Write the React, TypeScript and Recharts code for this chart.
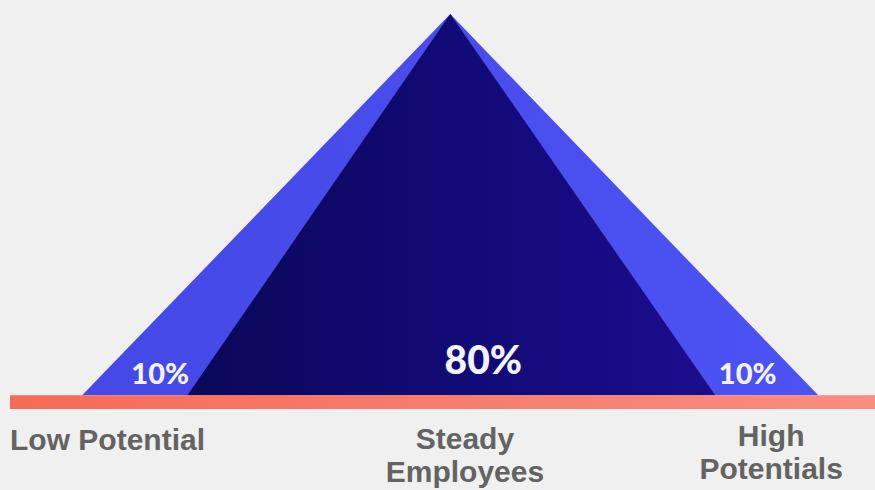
import React from "react";
import {
  ComposedChart,
  Area,
  XAxis,
  YAxis,
  ReferenceArea,
  ReferenceDot,
} from "recharts";

if (typeof document !== "undefined") document.body.style.margin = "0";

// categories and their shares
const categories = ["Low Potential", "Steady Employees", "High Potentials"];
const categoryLines = [["Low Potential"], ["Steady", "Employees"], ["High", "Potentials"]];
const shares = [10, 80, 10];

// pyramid outline (x along the base, 0..100; height 0..100)
const pyramidX = [0, 14.3, 50, 86, 100];
const outerHeight = [0, 28.6, 100, 28, 0];
const innerHeight = [null, 0, 100, 0, null];

const pyramidData = pyramidX.map((x, i) => ({
  x,
  outer: outerHeight[i],
  inner: innerHeight[i],
}));

// where each share label sits and where each category label sits
const shareLabelX = [10.6, 54.5, 90.4];
const shareLabelY = [5.6, 9.3, 5.6];
const categoryTickX = [-9.8, 52, 93.6];

const X_DOMAIN: [number, number] = [-9.8, 107.7];
const Y_DOMAIN: [number, number] = [-3.6, 100];

const CategoryTick = (props: any) => {
  const { x, y, index } = props;
  const lines = categoryLines[index] || [categories[index]];
  const anchor = index === 0 ? "start" : "middle";
  const firstDy = index === 0 ? 41 : index === 1 ? 40 : 37;
  return (
    <text
      x={x}
      y={y + firstDy}
      textAnchor={anchor}
      fill="#636363"
      fontSize={30}
      fontWeight={700}
      fontFamily="'Liberation Sans', Arial, sans-serif"
    >
      {lines.map((line: string, i: number) => (
        <tspan key={i} x={x} dy={i === 0 ? 0 : 33}>
          {line}
        </tspan>
      ))}
    </text>
  );
};

export default function App() {
  return (
    <div style={{ width: 875, height: 490, background: "#f0f0f0", overflow: "hidden" }}>
      <ComposedChart
        width={875}
        height={490}
        data={pyramidData}
        margin={{ top: 14, right: 0, left: 10, bottom: 0 }}
      >
        <defs>
          <linearGradient id="outerGrad" x1="0" y1="0" x2="1" y2="0">
            <stop offset="0%" stopColor="#4448e6" />
            <stop offset="100%" stopColor="#4d52f4" />
          </linearGradient>
          <linearGradient id="innerGrad" x1="0" y1="0" x2="1" y2="0">
            <stop offset="0%" stopColor="#0a0858" />
            <stop offset="55%" stopColor="#120a78" />
            <stop offset="100%" stopColor="#1c0d8e" />
          </linearGradient>
          <linearGradient id="baseGrad" x1="0" y1="0" x2="1" y2="0">
            <stop offset="0%" stopColor="#f76a56" />
            <stop offset="100%" stopColor="#fa8d7e" />
          </linearGradient>
        </defs>
        <XAxis
          dataKey="x"
          type="number"
          domain={X_DOMAIN}
          ticks={categoryTickX}
          interval={0}
          axisLine={false}
          tickLine={false}
          tickSize={0}
          tickMargin={0}
          height={81}
          tick={<CategoryTick />}
          allowDataOverflow
        />
        <YAxis type="number" domain={Y_DOMAIN} hide allowDataOverflow />
        <Area
          type="linear"
          dataKey="outer"
          stroke="none"
          fill="url(#outerGrad)"
          fillOpacity={1}
          baseValue={0}
          isAnimationActive={false}
        />
        <Area
          type="linear"
          dataKey="inner"
          stroke="none"
          fill="url(#innerGrad)"
          fillOpacity={1}
          baseValue={0}
          isAnimationActive={false}
        />
        <ReferenceArea
          x1={X_DOMAIN[0]}
          x2={X_DOMAIN[1]}
          y1={Y_DOMAIN[0]}
          y2={0}
          fill="url(#baseGrad)"
          fillOpacity={1}
          stroke="none"
        />
        {shares.map((s, i) => (
          <ReferenceDot
            key={i}
            x={shareLabelX[i]}
            y={shareLabelY[i]}
            r={0}
            stroke="none"
            fill="none"
            label={{
              value: `${s}%`,
              position: "center",
              fill: "#f3f3fb",
              fontSize: i === 1 ? 39 : 29,
              fontWeight: 900,
              fontFamily: "Lato, 'Open Sans', sans-serif",
            }}
          />
        ))}
      </ComposedChart>
    </div>
  );
}
